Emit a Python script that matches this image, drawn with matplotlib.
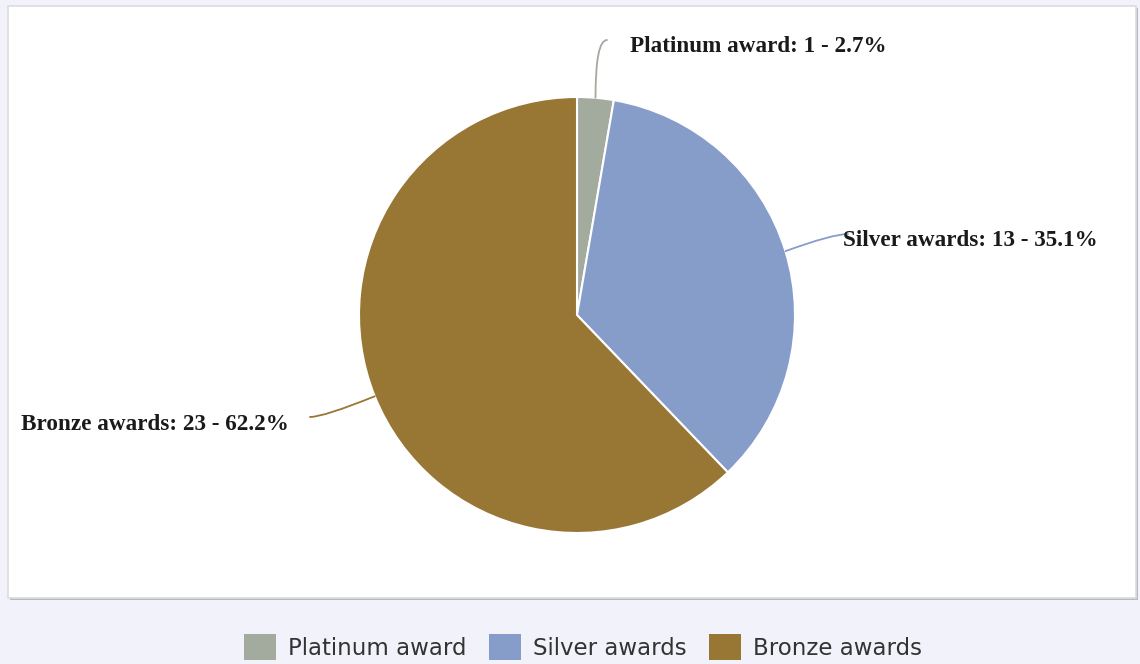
import matplotlib.pyplot as plt
from matplotlib.patches import Rectangle
import numpy as np

labels = ['Platinum award', 'Silver awards', 'Bronze awards']
counts = [1, 13, 23]
colors = ['#a3aa9e', '#879dc9', '#987634']

W, H = 1140, 664
fig = plt.figure(figsize=(W / 100, H / 100), dpi=100, facecolor='#f2f2fa')
ax = fig.add_axes([0, 0, 1, 1])
ax.set_xlim(0, W)
ax.set_ylim(0, H)
ax.set_aspect('equal')
ax.axis('off')

# white panel with a soft shadow on the bottom/right
ax.add_patch(Rectangle((10, H - 600), 1128, 592, facecolor='#b9b9c2', edgecolor='none', zorder=0))
ax.add_patch(Rectangle((8, H - 598), 1128, 592, facecolor='white', edgecolor='#dcdce0', lw=1.2, zorder=0.5))

cx, cy, r = 577, H - 315, 218
wedges, _ = ax.pie(counts, colors=colors, startangle=90, counterclock=False,
                   center=(cx, cy), radius=r, frame=True,
                   wedgeprops=dict(edgecolor='white', linewidth=1.5))
ax.set_xlim(0, W)
ax.set_ylim(0, H)
ax.axis('off')

total = sum(counts)
texts = ['%s: %d - %.1f%%' % (l, c, 100 * c / total) for l, c in zip(labels, counts)]
# leader line end points, text anchors, and start angle of each leader curve
line_ends = [(607, H - 40), (848, H - 234), (310, H - 417)]
text_pos = [(630, H - 46), (843, H - 241), (289, H - 424)]
aligns = ['left', 'left', 'right']
start_angles = [90, 20, 22]

for w, t, end, tp, ha, a0, col in zip(wedges, texts, line_ends, text_pos, aligns, start_angles, colors):
    ang = np.deg2rad((w.theta1 + w.theta2) / 2)
    edge = (cx + r * np.cos(ang), cy + r * np.sin(ang))
    ax.annotate('', xy=end, xytext=edge,
                arrowprops=dict(arrowstyle='-', color=col, lw=1.3,
                                connectionstyle='angle3,angleA=%d,angleB=0' % a0,
                                shrinkA=0, shrinkB=0))
    ax.text(tp[0], tp[1], t, ha=ha, va='center', fontsize=16.7,
            fontweight='bold', family='Liberation Serif', color='#1a1a1a')

handles = [Rectangle((0, 0), 1, 1, facecolor=c) for c in colors]
fig.legend(handles, labels, loc='center', bbox_to_anchor=(583 / W, 1 - 647 / H),
           ncol=3, frameon=False, fontsize=16.5, handlelength=1.4, handleheight=1.4,
           handletextpad=0.5, columnspacing=1.0, labelcolor='#333333')

fig.savefig('out.png', dpi=100, facecolor=fig.get_facecolor())
